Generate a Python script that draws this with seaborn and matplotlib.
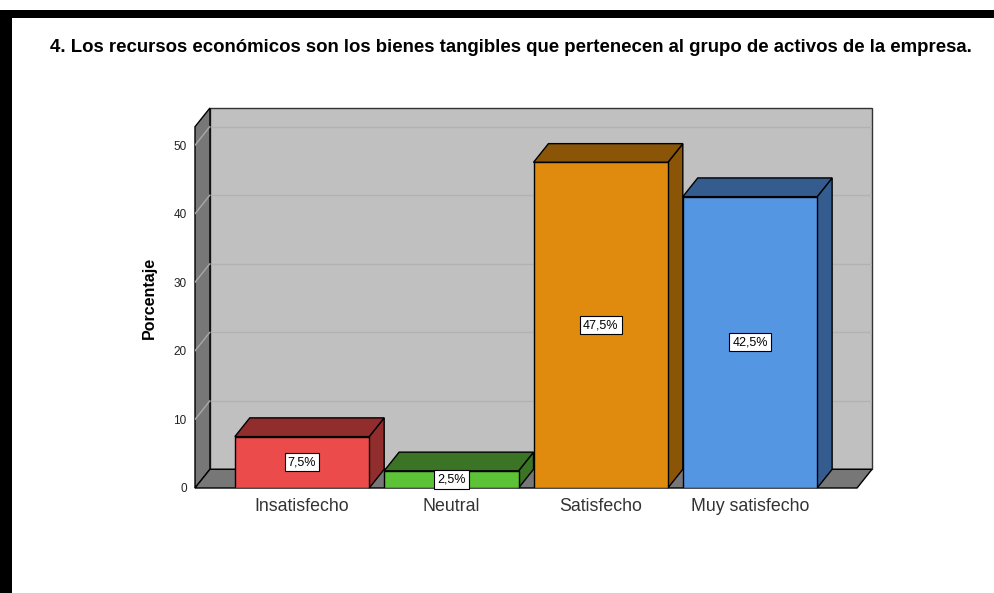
import numpy as np
import pandas as pd
import seaborn as sns
from matplotlib import pyplot as plt
from matplotlib.patches import Polygon, Rectangle

# data
categories = ["Insatisfecho", "Neutral", "Satisfecho", "Muy satisfecho"]
percentages = [7.5, 2.5, 47.5, 42.5]
value_labels = ["7,5%", "2,5%", "47,5%", "42,5%"]
y_ticks = [0, 10, 20, 30, 40, 50]
title = "4. Los recursos económicos son los bienes tangibles que pertenecen al grupo de activos de la empresa."

front_colors = ["#ec4b4c", "#5cc236", "#e08a0e", "#5596e3"]
dark_colors = ["#922d2e", "#3a7424", "#8b5508", "#345c8f"]

sns.set_theme(style="white")
plt.rcParams["font.family"] = ["Liberation Sans", "DejaVu Sans"]

df = pd.DataFrame({"categoria": categories, "porcentaje": percentages})

fig = plt.figure(figsize=(9.94, 5.93), dpi=100)
W, H = 994, 593
ax = fig.add_axes([195 / W, (H - 488) / H, 677 / W, (488 - 108) / H])

# 3d look
dx, dy = 0.1, 2.73
x0, xr = -0.717, 3.717
ytop = 52.7

sns.barplot(data=df, x="categoria", y="porcentaje", hue="categoria",
            palette=front_colors, saturation=1, width=0.9, edgecolor="black", linewidth=1,
            legend=False, ax=ax, zorder=4)
bars = list(ax.patches)

ax.set_xlim(x0, xr + dx)
ax.set_ylim(0, ytop + dy)

wall_dark = "#777777"
# back wall
ax.add_patch(Rectangle((x0 + dx, dy), xr - x0, ytop, fc="#c0c0c0", ec="#333333", lw=1, zorder=0, clip_on=False))
# left wall
ax.add_patch(Polygon([(x0, 0), (x0 + dx, dy), (x0 + dx, ytop + dy), (x0, ytop)],
                     fc=wall_dark, ec="black", lw=1, zorder=1, clip_on=False))
# floor
ax.add_patch(Polygon([(x0, 0), (xr, 0), (xr + dx, dy), (x0 + dx, dy)],
                     fc=wall_dark, ec="black", lw=1, zorder=1, clip_on=False))

for t in y_ticks[1:]:
    ax.plot([x0 + dx, xr + dx], [t + dy, t + dy], color="#b2b2b2", lw=1, zorder=0.5)
    ax.plot([x0, x0 + dx], [t, t + dy], color="#a8a8a8", lw=1, zorder=1.5)

for i, p in enumerate(bars):
    x, w, h = p.get_x(), p.get_width(), p.get_height()
    side = Polygon([(x + w, 0), (x + w + dx, dy), (x + w + dx, h + dy), (x + w, h)],
                   fc=dark_colors[i], ec="black", lw=1, zorder=3, clip_on=False)
    top = Polygon([(x, h), (x + dx, h + dy), (x + w + dx, h + dy), (x + w, h)],
                  fc=dark_colors[i], ec="black", lw=1, zorder=3, clip_on=False)
    ax.add_patch(side)
    ax.add_patch(top)
    ax.text(x + w / 2, h / 2, value_labels[i], ha="center", va="center", fontsize=9,
            color="black", zorder=6,
            bbox=dict(boxstyle="square,pad=0.25", fc="white", ec="black", lw=0.8))

for s in ax.spines.values():
    s.set_visible(False)
ax.set_facecolor("none")
ax.set_yticks(y_ticks)
ax.set_yticklabels([str(t) for t in y_ticks], fontsize=8.5, color="#222222")
ax.tick_params(axis="y", length=0, pad=6)
ax.tick_params(axis="x", length=0, pad=7, labelsize=12.8, labelcolor="#333333")
ax.set_xlabel("")
ax.set_ylabel("Porcentaje", fontsize=11.5, fontweight="bold", color="black", labelpad=12)

fig.text(50 / W, 1 - 47 / H, title, ha="left", va="center", fontsize=13.4,
         fontweight="bold", color="black")

# page frame
fig.patches.append(Rectangle((0, 1 - 18 / H), 1, 8 / H, transform=fig.transFigure, fc="black", ec="none"))
fig.patches.append(Rectangle((0, 0), 12 / W, 1 - 10 / H, transform=fig.transFigure, fc="black", ec="none"))

fig.savefig("out.png", dpi=100)
